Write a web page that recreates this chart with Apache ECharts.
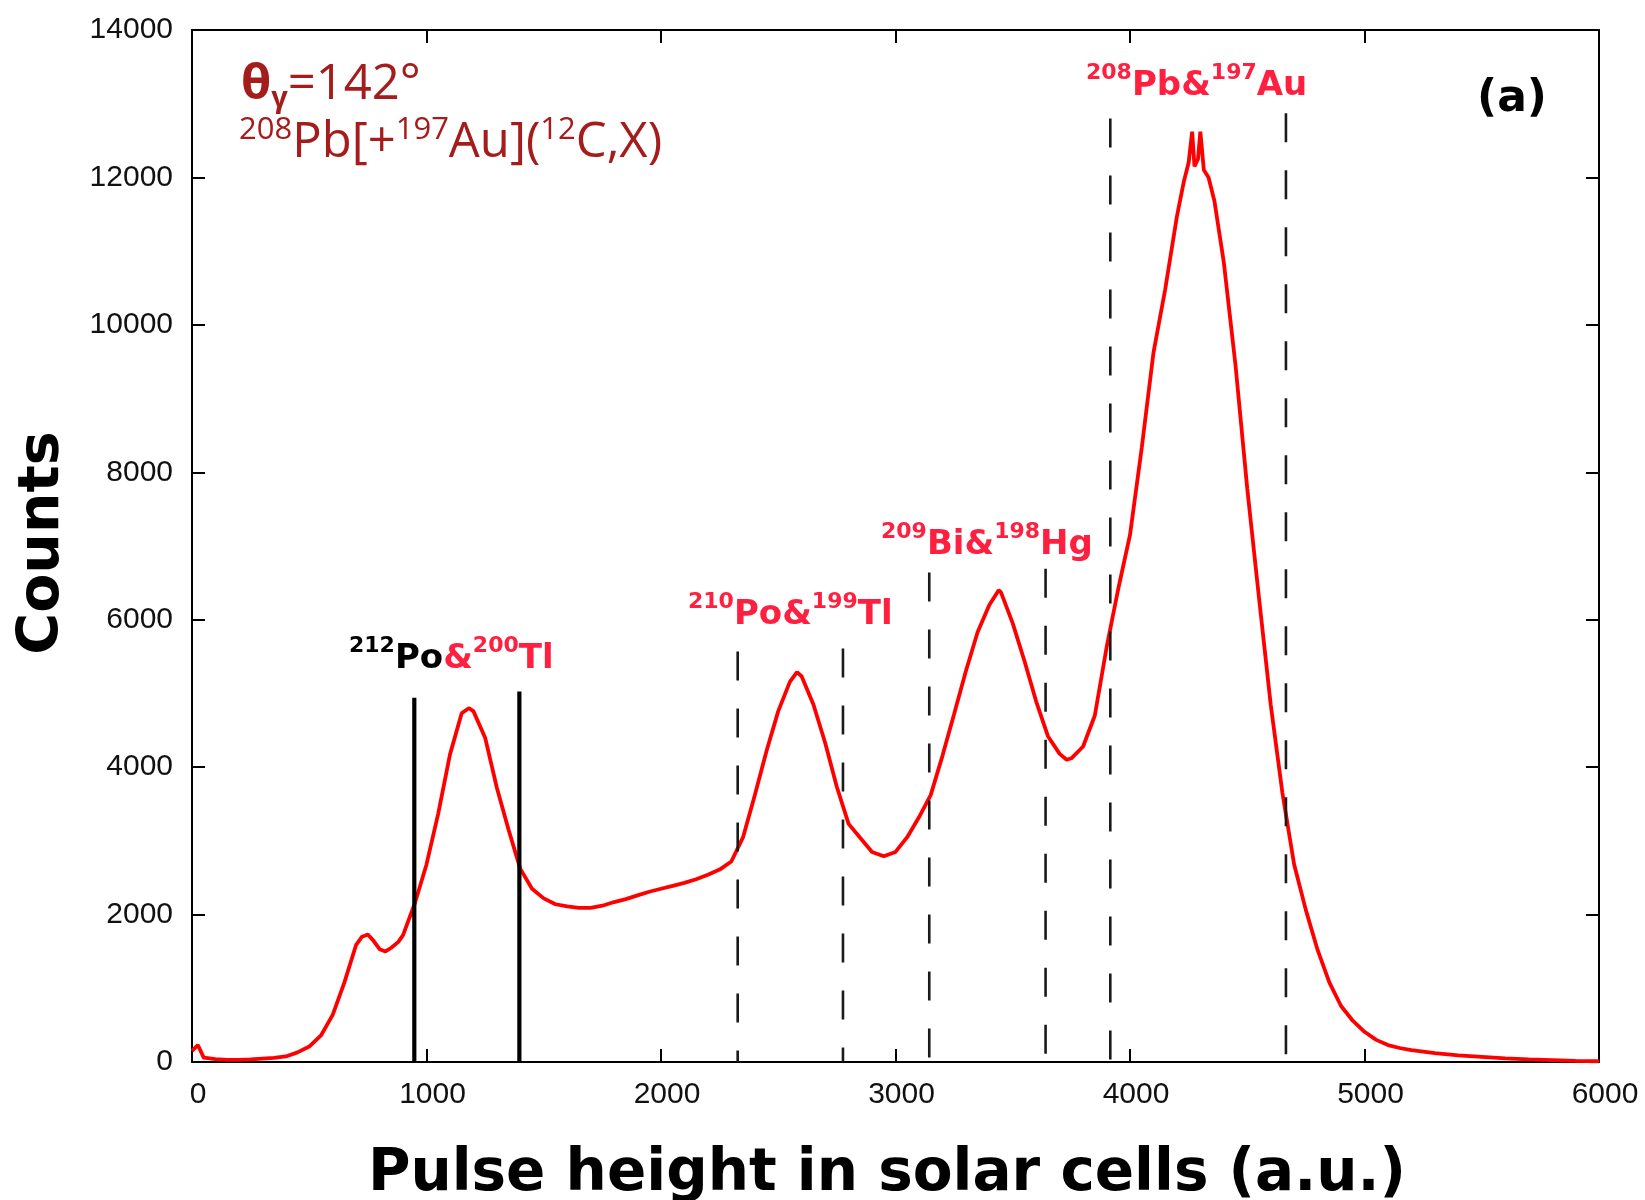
<!DOCTYPE html>
<html>
<head>
<meta charset="utf-8">
<script src="https://cdn.jsdelivr.net/npm/echarts@6/dist/echarts.min.js"></script>
<style>
  html, body { margin: 0; padding: 0; background: #fff; }
  #chart { width: 1645px; height: 1200px; }
</style>
</head>
<body>
<div id="chart"></div>
<script>
// Pulse-height spectrum: channel (a.u.) and counts per channel
const channel = [
  0, 25, 50, 100, 150, 200, 250, 300, 350, 400,
  450, 500, 550, 600, 650, 700, 725, 750, 775, 800,
  825, 850, 880, 900, 950, 1000, 1050, 1100, 1150, 1180,
  1200, 1250, 1300, 1350, 1400, 1450, 1500, 1550, 1600, 1650,
  1700, 1750, 1800, 1850, 1900, 1950, 2000, 2050, 2100, 2150,
  2200, 2250, 2300, 2350, 2400, 2450, 2500, 2550, 2580, 2600,
  2650, 2700, 2750, 2800, 2850, 2900, 2950, 3000, 3050, 3100,
  3150, 3200, 3250, 3300, 3350, 3400, 3440, 3450, 3500, 3550,
  3600, 3650, 3700, 3730, 3750, 3800, 3850, 3900, 3950, 4000,
  4050, 4100, 4150, 4200, 4230, 4250, 4265, 4275, 4290, 4300,
  4315, 4335, 4360, 4400, 4450, 4500, 4550, 4600, 4650, 4700,
  4750, 4800, 4850, 4900, 4950, 5000, 5050, 5100, 5150, 5200,
  5300, 5400, 5500, 5600, 5700, 5800, 5900, 6000
];
const counts = [
  150, 230, 60, 40, 30, 30, 35, 45, 55, 75,
  130, 210, 360, 640, 1080, 1590, 1700, 1730, 1640, 1530,
  1500, 1550, 1630, 1720, 2150, 2680, 3370, 4170, 4730, 4800,
  4760, 4400, 3720, 3150, 2620, 2350, 2220, 2140, 2110, 2090,
  2090, 2120, 2170, 2210, 2260, 2310, 2350, 2390, 2430, 2480,
  2540, 2610, 2720, 3050, 3620, 4220, 4760, 5160, 5290, 5230,
  4850, 4330, 3730, 3230, 3040, 2850, 2790, 2850, 3050, 3320,
  3620, 4150, 4720, 5300, 5830, 6200, 6400, 6370, 5950, 5440,
  4890, 4420, 4180, 4100, 4120, 4280, 4700, 5620, 6420, 7150,
  8330, 9620, 10480, 11470, 11950, 12200, 12620, 12150, 12250, 12620,
  12100, 12000, 11680, 10850, 9450, 7780, 6300, 4850, 3650, 2680,
  2060, 1520, 1080, 760, 560, 410, 300, 230, 190, 160,
  120, 90, 70, 50, 35, 25, 15, 10
];

// Gate markers: channel position and the height each marker reaches
const solidGates = [948, 1396];
const solidGateTops = [4940, 5025];
const dashedGates = [2327, 2776, 3144, 3640, 3916, 4665];
const dashedGateTops = [5570, 5610, 6640, 6690, 12800, 12870];

// Axis ranges
const xRange = [0, 6000];
const xStep = 1000;
const yRange = [0, 14000];
const yStep = 2000;

const RED = '#ff0000';
const LABEL_RED = '#ff2040';
const DARK_RED = '#a51c1c';

const chart = echarts.init(document.getElementById('chart'), null, { renderer: 'canvas' });

const tickFont = {
  fontFamily: '"Liberation Sans Narrow", "Liberation Sans", sans-serif',
  fontSize: 30,
  color: '#111',
  formatter: v => String(v)
};

function axis(kind, pos, range, step, showLabels) {
  return {
    type: 'value',
    position: pos,
    min: range[0],
    max: range[1],
    interval: step,
    axisLine: { show: true, onZero: false, lineStyle: { color: '#000', width: 2 } },
    axisTick: { show: true, inside: true, length: 13, lineStyle: { color: '#000', width: 2 } },
    axisLabel: showLabels
      ? Object.assign(
          kind === 'x' ? { show: true, margin: 18, padding: [0, 0, 0, 12] } : { show: true, margin: 19 },
          tickFont)
      : { show: false },
    splitLine: { show: false }
  };
}

const spectrum = {
  type: 'line',
  name: 'spectrum',
  data: channel.map((c, i) => [c, counts[i]]),
  showSymbol: false,
  symbol: 'none',
  lineStyle: { color: RED, width: 3.8 },
  z: 2,
  silent: true
};

function gateSeries(xs, tops, dashed) {
  return xs.map((x, i) => ({
    type: 'line',
    data: [[x, tops[i]], [x, 0]],
    showSymbol: false,
    symbol: 'none',
    lineStyle: dashed
      ? { color: '#1a1a1a', width: 2.6, type: [29, 28] }
      : { color: '#000', width: 4.2, type: 'solid' },
    z: 3,
    silent: true
  }));
}

const nucFont = '"DejaVu Sans", Verdana, sans-serif';
const nucRich = {
  m:  { fontFamily: nucFont, fontWeight: 'bold', fontSize: 34, lineHeight: 48, fill: LABEL_RED },
  s:  { fontFamily: nucFont, fontWeight: 'bold', fontSize: 22, lineHeight: 18, verticalAlign: 'top', fill: LABEL_RED },
  mk: { fontFamily: nucFont, fontWeight: 'bold', fontSize: 34, lineHeight: 48, fill: '#000' },
  sk: { fontFamily: nucFont, fontWeight: 'bold', fontSize: 22, lineHeight: 18, verticalAlign: 'top', fill: '#000' }
};

function nucLabel(x, y, text) {
  return {
    type: 'text',
    x: x, y: y,
    z: 10,
    style: { text: text, rich: nucRich, align: 'left', verticalAlign: 'top' }
  };
}

const titleFont = '"Open Sans", Lato, sans-serif';
const titleRich = {
  b:   { fontFamily: titleFont, fontWeight: 'bold', fontSize: 49, lineHeight: 56, fill: DARK_RED },
  n:   { fontFamily: titleFont, fontWeight: 'normal', fontSize: 49, lineHeight: 56, fill: DARK_RED },
  sub: { fontFamily: titleFont, fontWeight: 'bold', fontSize: 29, lineHeight: 29, verticalAlign: 'bottom', fill: DARK_RED },
  sup: { fontFamily: titleFont, fontWeight: 'normal', fontSize: 31, lineHeight: 32, verticalAlign: 'top', fill: DARK_RED }
};

const option = {
  animation: false,
  backgroundColor: '#fff',
  grid: { left: 192, right: 46, top: 30, bottom: 138, containLabel: false },
  xAxis: [
    axis('x', 'bottom', xRange, xStep, true),
    axis('x', 'top', xRange, xStep, false)
  ],
  yAxis: [
    axis('y', 'left', yRange, yStep, true),
    axis('y', 'right', yRange, yStep, false)
  ],
  series: [spectrum]
    .concat(gateSeries(solidGates, solidGateTops, false))
    .concat(gateSeries(dashedGates, dashedGateTops, true)),
  graphic: [
    {
      type: 'text', x: 241, y: 57, z: 10,
      style: { text: '{b|θ}{sub|γ}{n|=142°}', rich: titleRich, align: 'left', verticalAlign: 'top' }
    },
    {
      type: 'text', x: 239, y: 115, z: 10,
      style: { text: '{sup|208}{n|Pb[+}{sup|197}{n|Au](}{sup|12}{n|C,X)}', rich: titleRich, align: 'left', verticalAlign: 'top' }
    },
    {
      type: 'text', x: 1512, y: 100, z: 10,
      style: {
        text: '(a)', fill: '#000', align: 'center', verticalAlign: 'middle',
        fontFamily: nucFont, fontWeight: 'bold', fontSize: 44
      }
    },
    nucLabel(1086, 62, '{s|208}{m|Pb&}{s|197}{m|Au}'),
    nucLabel(881, 521, '{s|209}{m|Bi&}{s|198}{m|Hg}'),
    nucLabel(688, 591, '{s|210}{m|Po&}{s|199}{m|Tl}'),
    nucLabel(349, 635, '{sk|212}{mk|Po}{m|&}{s|200}{m|Tl}'),
    {
      type: 'text', x: 43, y: 543, rotation: Math.PI / 2, z: 10,
      style: {
        text: 'Counts', fill: '#000', align: 'center', verticalAlign: 'middle',
        fontFamily: nucFont, fontWeight: 'bold', fontSize: 57
      }
    },
    {
      type: 'text', x: 887, y: 1175, z: 10,
      style: {
        text: 'Pulse height in solar cells (a.u.)', fill: '#000', align: 'center', verticalAlign: 'middle',
        fontFamily: nucFont, fontWeight: 'bold', fontSize: 58
      }
    }
  ]
};

chart.setOption(option);
</script>
</body>
</html>
